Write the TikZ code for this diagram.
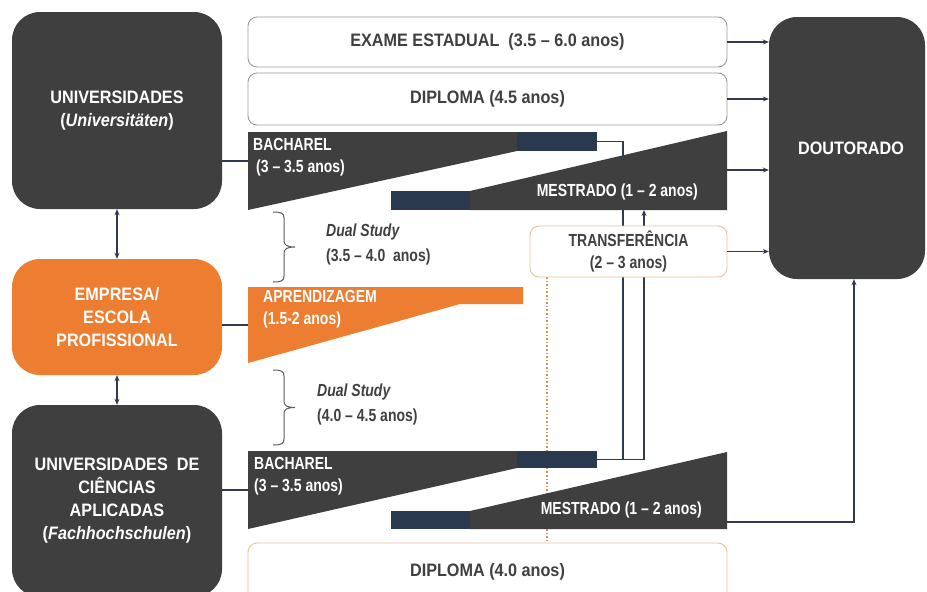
\documentclass[tikz,border=0pt]{standalone}
\usepackage{fontspec}
\setmainfont{Liberation Sans}[FakeStretch=0.9]
\newfontfamily\narrowf{Liberation Sans}[FakeStretch=0.8]
\usetikzlibrary{arrows.meta}
\definecolor{dkgray}{HTML}{3F3F3F}
\definecolor{navy}{HTML}{2B394F}
\definecolor{lncol}{HTML}{2F3A4C}
\definecolor{orng}{HTML}{ED7D31}
\definecolor{txtgray}{HTML}{404040}
\definecolor{boxgray}{HTML}{9A9A9A}
\definecolor{boxorng}{HTML}{E8C29A}
\definecolor{dotorng}{HTML}{CF9350}
\newcommand\fsA{\bfseries\fontsize{18}{23}\selectfont}
\newcommand\fsB{\narrowf\bfseries\fontsize{17.5}{22}\selectfont}
\newcommand\fsD{\narrowf\bfseries\fontsize{17.5}{25}\selectfont}
\begin{document}
\begin{tikzpicture}[x=1pt,y=-1pt,
  leftbox/.style={rounded corners=28pt, minimum width=210pt, text=white, font=\fsA, align=center, inner sep=0pt},
  whitebox/.style={draw=boxgray, line width=0.9pt, rounded corners=9pt, fill=white, minimum width=479pt, text=txtgray, font=\fsA, align=center, inner sep=0pt},
  conn/.style={draw=lncol, line width=1.3pt},
  arr/.style={conn, -{Stealth[length=6pt,width=5pt]}},
  dblarr/.style={conn, {Stealth[length=6pt,width=5pt]}-{Stealth[length=6pt,width=5pt]}},
  lbl/.style={font=\fsB, text=white, inner sep=0pt, align=left},
  dual/.style={font=\fsD, text=txtgray, inner sep=0pt, align=left},
  brc/.style={draw=txtgray!85, line width=1pt}
]
\fill[white] (0,0) rectangle (927,592);
\useasboundingbox (0,0) rectangle (927,592);
\clip (0,0) rectangle (927,592);

% coordinates for connectors
\coordinate (bTopEnd) at (597,141.5);
\coordinate (bBotEnd) at (597,459.5);
\coordinate (mTopBot) at (644,210);
\coordinate (transfBot) at (547,277);
\coordinate (dipTop) at (547,543);

% lines behind the shapes
\draw[dotted, draw=dotorng, line width=1.6pt] (transfBot) -- (dipTop);
\draw[conn] (bTopEnd) -- ++(26,0) |- (bBotEnd);
\draw[arr] (bBotEnd) -| (mTopBot);

% top bachelor / master
\fill[dkgray] (248,132) -- (517,132) -- (517,151) -- (248,210) -- cycle;
\fill[navy] (517,132) rectangle (597,151);
\fill[navy] (391,191) rectangle (470,210);
\fill[dkgray] (470,191) -- (727,131) -- (727,210) -- (470,210) -- cycle;

% apprenticeship
\fill[orng] (248,287) -- (523,287) -- (523,304) -- (460,304) -- (248,363) -- cycle;

% bottom bachelor / master
\fill[dkgray] (248,451) -- (517,451) -- (517,468) -- (248,529) -- cycle;
\fill[navy] (517,451) rectangle (597,468);
\fill[navy] (391,511) rectangle (470,529);
\fill[dkgray] (470,511) -- (727,452) -- (727,529) -- (470,529) -- cycle;

% braces
\draw[brc] (273,212) .. controls (281,212) and (284,213) .. (284,218) -- (284,241)
  .. controls (284,245) and (287,247) .. (295,247)
  .. controls (287,247) and (284,249) .. (284,253) -- (284,276)
  .. controls (284,281) and (281,282) .. (273,282);
\draw[brc] (273,370) .. controls (281,370) and (284,371) .. (284,376) -- (284,401.5)
  .. controls (284,405.5) and (287,407.5) .. (295,407.5)
  .. controls (287,407.5) and (284,409.5) .. (284,413.5) -- (284,439)
  .. controls (284,444) and (281,445) .. (273,445);

% boxes
\node[leftbox, fill=dkgray, minimum height=197pt] (uni) at (117,110.5) {UNIVERSIDADES\\(\textit{Universitäten})};
\node[leftbox, fill=orng, minimum height=116pt] (emp) at (117,317) {EMPRESA/\\ESCOLA\\PROFISSIONAL};
\node[leftbox, fill=dkgray, minimum height=192pt] (fh) at (117,501) {UNIVERSIDADES~~DE\\CIÊNCIAS\\APLICADAS\\(\textit{Fachhochschulen})};
\node[leftbox, fill=dkgray, minimum width=156pt, minimum height=262pt] (dout) at (847,148) {\hspace*{8pt}DOUTORADO};

\node[whitebox, minimum height=50pt] (exame) at (487.5,42) {EXAME ESTADUAL~~(3.5 – 6.0 anos)};
\node[whitebox, minimum height=52pt] (dip45) at (487.5,99) {DIPLOMA (4.5 anos)};
\node[whitebox, draw=boxorng, minimum width=197pt, minimum height=51pt, font=\fsB] (transf) at (628.5,251.5) {TRANSFERÊNCIA\\(2 – 3 anos)};
\node[whitebox, draw=boxorng, minimum height=60pt] (dip40) at (487.5,573) {\raisebox{6pt}{DIPLOMA (4.0 anos)}};

% labels in shapes
\node[lbl, anchor=west] (bTopTxt) at (253,157.5) {BACHAREL\\\hspace*{3pt}(3 – 3.5 anos)};
\node[lbl, anchor=east] (mTopTxt) at (698,192) {MESTRADO (1 – 2 anos)};
\node[lbl, anchor=west] (aprTxt) at (263,309.5) {APRENDIZAGEM\\(1.5-2 anos)};
\node[lbl, anchor=west] (bBotTxt) at (254,476.5) {BACHAREL\\(3 – 3.5 anos)};
\node[lbl, anchor=east] (mBotTxt) at (702,510) {MESTRADO (1 – 2 anos)};

\node[dual, anchor=west] (d1) at (326,244.5) {\textit{Dual Study}\\(3.5 – 4.0~~anos)};
\node[dual, anchor=west] (d2) at (317,404.5) {\textit{Dual Study}\\(4.0 – 4.5 anos)};

% left connectors
\coordinate (bTopL) at (248,161);
\coordinate (aprL) at (248,325);
\coordinate (bBotL) at (248,490);
\draw[conn] (uni.east |- bTopL) -- (bTopL);
\draw[conn] (emp.east |- aprL) -- (aprL);
\draw[conn] (fh.east |- bBotL) -- (bBotL);
\draw[dblarr] (uni.south) -- (emp.north);
\draw[dblarr] (emp.south) -- (fh.north);

% arrows to doctorate
\coordinate (mTopR) at (727,170);
\coordinate (mBotR) at (727,522);
\draw[arr] (exame.east) -- (exame.east -| dout.west);
\draw[arr] (dip45.east) -- (dip45.east -| dout.west);
\draw[arr] (mTopR) -- (mTopR -| dout.west);
\draw[arr] (transf.east) -- (transf.east -| dout.west);
\draw[arr] (mBotR) -| ([xshift=7pt]dout.south);
\end{tikzpicture}
\end{document}
